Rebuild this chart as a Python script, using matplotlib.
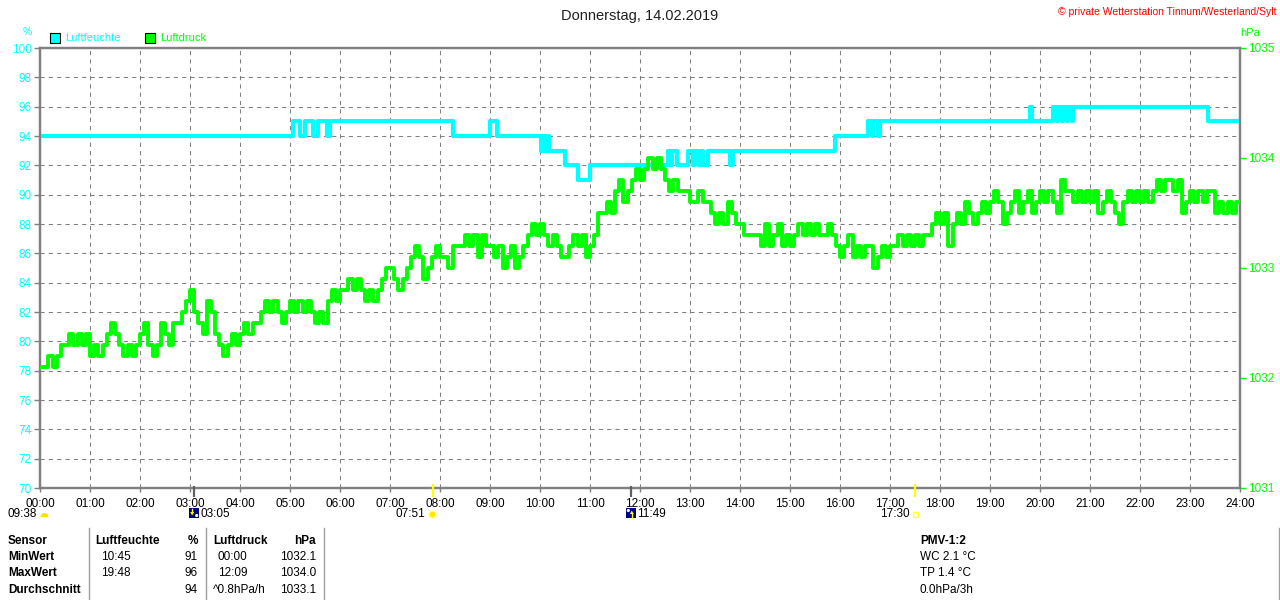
import numpy as np
import matplotlib
matplotlib.use("Agg")
import matplotlib.pyplot as plt
from matplotlib.patches import Rectangle, Wedge, Circle, Polygon

plt.rcParams['font.family'] = ['Liberation Sans', 'DejaVu Sans']

# ---------------- data ----------------
title = "Donnerstag, 14.02.2019"
copyright_txt = "© private Wetterstation Tinnum/Westerland/Sylt"

hour_labels = ["%02d:00" % h for h in range(25)]
hum_ticks = list(range(70, 101, 2))
press_ticks = [1031, 1032, 1033, 1034, 1035]

# relative humidity (%), step changes
hum_times = ["00:00", "05:03", "05:12", "05:18", "05:28", "05:34", "05:44", "05:48",
             "08:16", "09:00", "09:08", "10:01", "10:04", "10:06", "10:09", "10:11",
             "10:30", "10:45", "11:00", "12:33", "12:36", "12:38", "12:44", "12:58",
             "13:03", "13:05", "13:09", "13:13", "13:16", "13:22", "13:48", "13:52",
             "15:54", "16:34", "16:38", "16:40", "16:45", "16:48", "19:48", "19:50",
             "20:16", "20:20", "20:22", "20:26", "20:28", "20:32", "20:34", "20:38",
             "20:40", "23:22"]
hum_vals = [94, 95, 94, 95, 94, 95, 94, 95,
            94, 95, 94, 93, 94, 93, 94, 93,
            92, 91, 92, 93, 92, 93, 92, 93,
            92, 93, 92, 93, 92, 93, 92, 93,
            94, 95, 94, 95, 94, 95, 96, 95,
            96, 95, 96, 95, 96, 95, 96, 95,
            96, 95]

# air pressure (hPa), 5-minute readings, one hour per line
press_00_05 = [
    1032.1, 1032.1, 1032.2, 1032.1, 1032.2, 1032.3, 1032.3, 1032.4, 1032.3, 1032.4, 1032.3, 1032.4,
    1032.2, 1032.3, 1032.2, 1032.3, 1032.4, 1032.5, 1032.4, 1032.3, 1032.2, 1032.3, 1032.2, 1032.3,
    1032.4, 1032.5, 1032.3, 1032.2, 1032.3, 1032.5, 1032.4, 1032.3, 1032.5, 1032.5, 1032.6, 1032.7,
    1032.8, 1032.6, 1032.5, 1032.4, 1032.7, 1032.6, 1032.4, 1032.3, 1032.2, 1032.3, 1032.4, 1032.3,
    1032.4, 1032.5, 1032.4, 1032.5, 1032.5, 1032.6, 1032.7, 1032.6, 1032.7, 1032.6, 1032.5, 1032.6,
    1032.7, 1032.6, 1032.7, 1032.6, 1032.7, 1032.6, 1032.5, 1032.6, 1032.5, 1032.7, 1032.8, 1032.7]
press_06_11 = [
    1032.8, 1032.8, 1032.9, 1032.8, 1032.9, 1032.8, 1032.7, 1032.8, 1032.7, 1032.8, 1032.9, 1033.0,
    1033.0, 1032.9, 1032.8, 1032.9, 1033.0, 1033.1, 1033.2, 1033.1, 1032.9, 1033.0, 1033.1, 1033.2,
    1033.1, 1033.1, 1033.0, 1033.2, 1033.2, 1033.2, 1033.3, 1033.2, 1033.3, 1033.1, 1033.3, 1033.2,
    1033.2, 1033.1, 1033.2, 1033.0, 1033.1, 1033.2, 1033.0, 1033.1, 1033.2, 1033.3, 1033.4, 1033.3,
    1033.4, 1033.3, 1033.2, 1033.3, 1033.2, 1033.1, 1033.1, 1033.2, 1033.3, 1033.2, 1033.3, 1033.1,
    1033.2, 1033.3, 1033.5, 1033.5, 1033.6, 1033.5, 1033.7, 1033.8, 1033.6, 1033.7, 1033.8, 1033.9]
press_12_17 = [
    1033.8, 1033.9, 1034.0, 1033.9, 1034.0, 1033.9, 1033.8, 1033.7, 1033.8, 1033.7, 1033.7, 1033.7,
    1033.6, 1033.6, 1033.7, 1033.6, 1033.6, 1033.5, 1033.4, 1033.5, 1033.4, 1033.6, 1033.5, 1033.4,
    1033.4, 1033.3, 1033.3, 1033.3, 1033.3, 1033.2, 1033.4, 1033.2, 1033.3, 1033.4, 1033.2, 1033.3,
    1033.2, 1033.3, 1033.4, 1033.3, 1033.4, 1033.3, 1033.4, 1033.3, 1033.3, 1033.4, 1033.3, 1033.2,
    1033.1, 1033.2, 1033.3, 1033.1, 1033.2, 1033.1, 1033.2, 1033.2, 1033.0, 1033.1, 1033.2, 1033.1,
    1033.2, 1033.2, 1033.3, 1033.2, 1033.3, 1033.2, 1033.3, 1033.2, 1033.3, 1033.3, 1033.4, 1033.5]
press_18_23 = [
    1033.4, 1033.5, 1033.2, 1033.4, 1033.5, 1033.4, 1033.6, 1033.5, 1033.4, 1033.5, 1033.6, 1033.5,
    1033.6, 1033.7, 1033.6, 1033.4, 1033.5, 1033.6, 1033.7, 1033.5, 1033.6, 1033.7, 1033.5, 1033.6,
    1033.7, 1033.6, 1033.7, 1033.6, 1033.5, 1033.8, 1033.7, 1033.7, 1033.6, 1033.7, 1033.6, 1033.7,
    1033.6, 1033.7, 1033.5, 1033.6, 1033.7, 1033.6, 1033.5, 1033.4, 1033.6, 1033.7, 1033.6, 1033.7,
    1033.6, 1033.7, 1033.6, 1033.7, 1033.8, 1033.7, 1033.8, 1033.8, 1033.7, 1033.8, 1033.5, 1033.6,
    1033.7, 1033.6, 1033.7, 1033.6, 1033.7, 1033.7, 1033.5, 1033.6, 1033.5, 1033.6, 1033.5, 1033.6]

# astronomical events
day_length = "09:38"
moonset = "03:05"
sunrise = "07:51"
moonrise = "11:49"
sunset = "17:30"

# statistics table
table_header = ["Sensor", "Luftfeuchte", "%", "Luftdruck", "hPa"]
row_names = ["MinWert", "MaxWert", "Durchschnitt"]
hum_stat_time = ["10:45", "19:48", ""]
hum_stat_val = ["91", "96", "94"]
press_stat_time = ["00:00", "12:09", "^0.8hPa/h"]
press_stat_val = ["1032.1", "1034.0", "1033.1"]
pmv_lines = ["PMV-1:2", "WC 2.1 °C", "TP 1.4 °C", "0.0hPa/3h"]

# ---------------- helpers ----------------
def hhmm(s):
    h, m = s.split(":")
    return int(h) + int(m) / 60.0

CYAN = "#00FFFF"
GREEN = "#00FF00"
GRAY = "#808080"
W, H = 1280, 600

fig = plt.figure(figsize=(12.8, 6), dpi=100)
ax = fig.add_axes([40 / W, 1 - 488 / H, 1200 / W, 440 / H])
ax.set_xlim(0, 24)
ax.set_ylim(70, 100)
ax2 = ax.twinx()
ax2.set_ylim(1031, 1035)

ht = [hhmm(t) for t in hum_times] + [24.0]
hv = hum_vals + [hum_vals[-1]]
ax.step(ht, hv, where="post", color=CYAN, lw=3.0, zorder=3)

pv = press_00_05 + press_06_11 + press_12_17 + press_18_23
pt = list(np.arange(len(pv)) * 5 / 60.0) + [24.0]
pv = pv + [pv[-1]]
ax2.step(pt, pv, where="post", color=GREEN, lw=2.8, zorder=3)

ax.set_xticks(range(25))
ax.set_xticklabels(hour_labels)
ax.set_yticks(hum_ticks)
ax.set_yticklabels([str(v) for v in hum_ticks])
ax2.set_yticks(press_ticks)
ax2.set_yticklabels([str(v) for v in press_ticks])

ax.grid(True, color=GRAY, linestyle=(0, (4, 4)), linewidth=0.75)
ax.set_axisbelow(True)
for a in (ax, ax2):
    for s in a.spines.values():
        s.set_color(GRAY)
        s.set_linewidth(1.6)

ax.tick_params(axis="y", color=GRAY, labelcolor=CYAN, length=4, width=1,
               labelsize=8.5, pad=2)
ax.tick_params(axis="x", color=GRAY, labelcolor="black", length=3, width=1,
               labelsize=8.5, pad=4)
ax2.tick_params(axis="y", color=GREEN, labelcolor=GREEN, length=4, width=1,
                labelsize=8.5, pad=2)

# ---------------- overlay (pixel coordinates) ----------------
ov = fig.add_axes([0, 0, 1, 1], facecolor="none")
ov.set_xlim(0, W)
ov.set_ylim(H, 0)
ov.axis("off")

def t2x(t):
    return 40 + hhmm(t) * 50.0

ov.text(640, 16, title, ha="center", va="center", fontsize=10.5, color="#202020")
ov.text(1277, 12, copyright_txt, ha="right", va="center", fontsize=7.5, color="#FF0000")
ov.text(27, 32, "%", ha="center", va="center", fontsize=7.5, color=CYAN)
ov.text(1250, 33, "hPa", ha="center", va="center", fontsize=8, color=GREEN)

ov.add_patch(Rectangle((50, 33), 10, 10, facecolor=CYAN, edgecolor="black", lw=0.8))
ov.text(65, 38, "Luftfeuchte", ha="left", va="center", fontsize=8, color=CYAN)
ov.add_patch(Rectangle((145, 33), 10, 10, facecolor=GREEN, edgecolor="black", lw=0.8))
ov.text(160, 38, "Luftdruck", ha="left", va="center", fontsize=8, color=GREEN)

# event tick marks on time axis
for t, col in [(sunrise, "#FFFF00"), (sunset, "#FFFF00")]:
    ov.plot([t2x(t), t2x(t)], [484, 497], color=col, lw=1.6, solid_capstyle="butt")
for t in (moonset, moonrise):
    ov.plot([t2x(t), t2x(t)], [486, 497], color="#606060", lw=1.6, solid_capstyle="butt")

# day length (left)
ov.text(37, 514, day_length, ha="right", va="center", fontsize=8.5)
ov.add_patch(Wedge((44.5, 517), 4, 180, 360, facecolor="#FFE000", edgecolor="none"))

# moonset icon
mx = t2x(moonset)
ov.add_patch(Rectangle((mx - 5, 508), 10, 10, facecolor="#000080", edgecolor="none"))
ov.add_patch(Polygon([[mx - 4, 512], [mx, 512], [mx - 2, 515.5]], facecolor="#FFFF00", edgecolor="none"))
ov.plot([mx - 2, mx - 2], [509, 512], color="#FFFF00", lw=1)
ov.add_patch(Circle((mx + 2.5, 515.5), 1.6, facecolor="white", edgecolor="none"))
ov.text(mx + 6, 514, moonset, ha="left", va="center", fontsize=8.5)

# moonrise icon
rx = t2x(moonrise)
ov.add_patch(Rectangle((rx - 5, 508), 10, 10, facecolor="#000080", edgecolor="none"))
ov.add_patch(Circle((rx - 2.5, 510.5), 1.6, facecolor="white", edgecolor="none"))
ov.add_patch(Polygon([[rx - 1, 514], [rx + 3, 514], [rx + 1, 510.5]], facecolor="#FFFF00", edgecolor="none"))
ov.plot([rx + 1, rx + 1], [514, 517.5], color="#FFFF00", lw=1)
ov.text(rx + 6, 514, moonrise, ha="left", va="center", fontsize=8.5)

# sunrise icon
sx = t2x(sunrise)
ov.add_patch(Circle((sx, 514.5), 4.5, facecolor="#FFFFA0", edgecolor="none"))
ov.add_patch(Circle((sx, 514.5), 2.8, facecolor="#FFE800", edgecolor="none"))
ov.text(sx - 7, 514, sunrise, ha="right", va="center", fontsize=8.5)

# sunset icon
ux = t2x(sunset)
ov.add_patch(Rectangle((ux - 2.5, 511.5), 5.5, 5.5, facecolor="none", edgecolor="#FFFF40", lw=1))
ov.text(ux - 5, 514, sunset, ha="right", va="center", fontsize=8.5)

# table separators
for x in (88.5, 205.5, 323.5, 1278.5):
    ov.plot([x, x], [528, 600], color="#A0A0A0", lw=1)

row_y = [541, 557, 573, 590]
ov.text(8, row_y[0], table_header[0], ha="left", va="center", fontsize=8.5, fontweight="bold")
ov.text(95, row_y[0], table_header[1], ha="left", va="center", fontsize=8.5, fontweight="bold")
ov.text(198, row_y[0], table_header[2], ha="right", va="center", fontsize=8.5, fontweight="bold")
ov.text(213, row_y[0], table_header[3], ha="left", va="center", fontsize=8.5, fontweight="bold")
ov.text(316, row_y[0], table_header[4], ha="right", va="center", fontsize=8.5, fontweight="bold")
for i, name in enumerate(row_names):
    y = row_y[i + 1]
    ov.text(8, y, name, ha="left", va="center", fontsize=8.5, fontweight="bold")
    ov.text(101, y, hum_stat_time[i], ha="left", va="center", fontsize=8.5)
    ov.text(198, y, hum_stat_val[i], ha="right", va="center", fontsize=8.5)
    xt = 213 if press_stat_time[i].startswith("^") else 218
    ov.text(xt, y, press_stat_time[i], ha="left", va="center", fontsize=8.5)
    ov.text(316, y, press_stat_val[i], ha="right", va="center", fontsize=8.5)

for i, line in enumerate(pmv_lines):
    ov.text(920, row_y[i], line, ha="left", va="center", fontsize=8.5,
            fontweight="bold" if i == 0 else "normal")

fig.savefig("out.png", dpi=100, facecolor="white")
